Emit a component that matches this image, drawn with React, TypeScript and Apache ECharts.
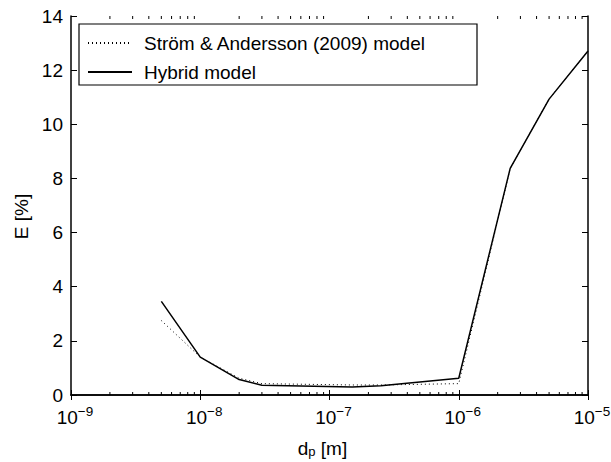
import React, { useEffect, useRef } from "react";
import * as echarts from "echarts";

const diameters = [5e-9, 1e-8, 2e-8, 3e-8, 1.5e-7, 2.5e-7, 1e-6, 2.5e-6, 5e-6, 1e-5];
const stromValues = [2.75, 1.4, 0.62, 0.42, 0.37, 0.37, 0.42, 8.37, 10.93, 12.71];
const hybridValues = [3.46, 1.4, 0.57, 0.36, 0.3, 0.34, 0.62, 8.37, 10.93, 12.71];
const minorTicks = [
  2e-9, 3e-9, 4e-9, 5e-9, 6e-9, 7e-9, 8e-9, 9e-9,
  2e-8, 3e-8, 4e-8, 5e-8, 6e-8, 7e-8, 8e-8, 9e-8,
  2e-7, 3e-7, 4e-7, 5e-7, 6e-7, 7e-7, 8e-7, 9e-7,
  2e-6, 3e-6, 4e-6, 5e-6, 6e-6, 7e-6, 8e-6, 9e-6,
];
const seriesNames = ["Ström & Andersson (2009) model", "Hybrid model"];

const FONT = "'Liberation Sans', Arial, Helvetica, sans-serif";

export default function App() {
  const ref = useRef<HTMLDivElement>(null);
  useEffect(() => {
    if (!ref.current) return;
    const chart = echarts.init(ref.current, null, { renderer: "svg" });
    const expLabel = (v: number) => {
      const e = Math.round(Math.log10(v));
      return `{b|10}{s|${e < 0 ? "\u2212" + Math.abs(e) : e}}`;
    };
    const Y_MAX = 14;
    chart.setOption({
      animation: false,
      backgroundColor: "#fff",
      textStyle: { fontFamily: FONT, color: "#000" },
      grid: { left: 71, right: 23, top: 16, bottom: 67, containLabel: false, outerBoundsMode: "none" },
      graphic: [
        {
          type: "rect",
          z: 9,
          shape: { x: 79, y: 24, width: 398, height: 61 },
          style: { fill: "#fff", stroke: "#000", lineWidth: 1.2 },
          silent: true,
        },
      ],
      legend: {
        data: seriesNames,
        orient: "vertical",
        left: 87,
        top: 33,
        padding: 0,
        z: 10,
        itemWidth: 44,
        itemHeight: 20,
        itemGap: 9,
        textStyle: { fontFamily: FONT, fontSize: 19, lineHeight: 20, color: "#000", padding: [0, 0, 0, 7] },
      },
      xAxis: [
        {
          type: "log",
          logBase: 10,
          min: 1e-9,
          max: 1e-5,
          name: "{n|d}{sub|p}{n| [m]}",
          nameLocation: "middle",
          nameGap: 43,
          nameTextStyle: {
            padding: [0, 14, 0, 0],
            rich: {
              n: { fontSize: 19, fontFamily: FONT, color: "#000", lineHeight: 20 },
              sub: { fontSize: 13, fontFamily: FONT, color: "#000", lineHeight: 10, verticalAlign: "bottom" },
            },
          },
          axisLine: { show: true, lineStyle: { color: "#000", width: 1.5 } },
          axisTick: { show: true, inside: true, length: 5, lineStyle: { color: "#000" } },
          axisLabel: {
            formatter: expLabel,
            margin: 9,
            padding: [0, 0, 0, 8],
            rich: {
              b: { fontSize: 19, fontFamily: FONT, color: "#000", lineHeight: 26 },
              s: { fontSize: 13.5, fontFamily: FONT, color: "#000", lineHeight: 11, verticalAlign: "top" },
            },
          },
          splitLine: { show: false },
        },
        {
          type: "log",
          logBase: 10,
          min: 1e-9,
          max: 1e-5,
          position: "top",
          axisLine: { show: true, lineStyle: { color: "#000", width: 1.5 } },
          axisTick: { show: true, inside: true, length: 5, lineStyle: { color: "#000" } },
          axisLabel: { show: false },
          splitLine: { show: false },
        },
      ],
      yAxis: [
        {
          type: "value",
          min: 0,
          max: Y_MAX,
          interval: 2,
          name: "E [%]",
          nameLocation: "middle",
          nameGap: 38,
          nameTextStyle: { fontSize: 19, fontFamily: FONT, color: "#000", padding: [0, 22, 0, 0] },
          axisLine: { show: true, lineStyle: { color: "#000", width: 1.5 } },
          axisTick: { show: true, inside: true, length: 6, lineStyle: { color: "#000" } },
          axisLabel: { fontSize: 19, fontFamily: FONT, color: "#000", margin: 8 },
          splitLine: { show: false },
        },
        {
          type: "value",
          min: 0,
          max: Y_MAX,
          interval: 2,
          position: "right",
          axisLine: { show: true, lineStyle: { color: "#000", width: 1.5 } },
          axisTick: { show: true, inside: true, length: 6, lineStyle: { color: "#000" } },
          axisLabel: { show: false },
          splitLine: { show: false },
        },
      ],
      series: [
        {
          name: seriesNames[0],
          type: "line",
          data: diameters.map((d, i) => [d, stromValues[i]]),
          showSymbol: false,
          symbol: "none",
          lineStyle: { color: "#000", width: 1, type: [1, 3] },
          itemStyle: { color: "rgba(0,0,0,0)", borderWidth: 0 },
          z: 3,
        },
        {
          name: seriesNames[1],
          type: "line",
          data: diameters.map((d, i) => [d, hybridValues[i]]),
          showSymbol: false,
          symbol: "none",
          lineStyle: { color: "#000", width: 1.5, type: "solid" },
          itemStyle: { color: "rgba(0,0,0,0)", borderWidth: 0 },
          z: 4,
        },
        {
          name: "minor-ticks",
          type: "custom",
          silent: true,
          data: minorTicks.map((v) => [v, 0]),
          encode: { x: 0, y: 1 },
          renderItem: (_params: any, api: any) => {
            const v = api.value(0);
            const b = api.coord([v, 0]);
            const t = api.coord([v, Y_MAX]);
            return {
              type: "group",
              children: [
                { type: "line", shape: { x1: b[0], y1: b[1], x2: b[0], y2: b[1] - 3 }, style: { stroke: "#000", lineWidth: 1 } },
                { type: "line", shape: { x1: t[0], y1: t[1], x2: t[0], y2: t[1] + 3 }, style: { stroke: "#000", lineWidth: 1 } },
              ],
            };
          },
          z: 2,
        },
      ],
    });
    return () => chart.dispose();
  }, []);
  return <div ref={ref} style={{ width: 611, height: 462, position: "absolute", left: 0, top: 0 }} />;
}
